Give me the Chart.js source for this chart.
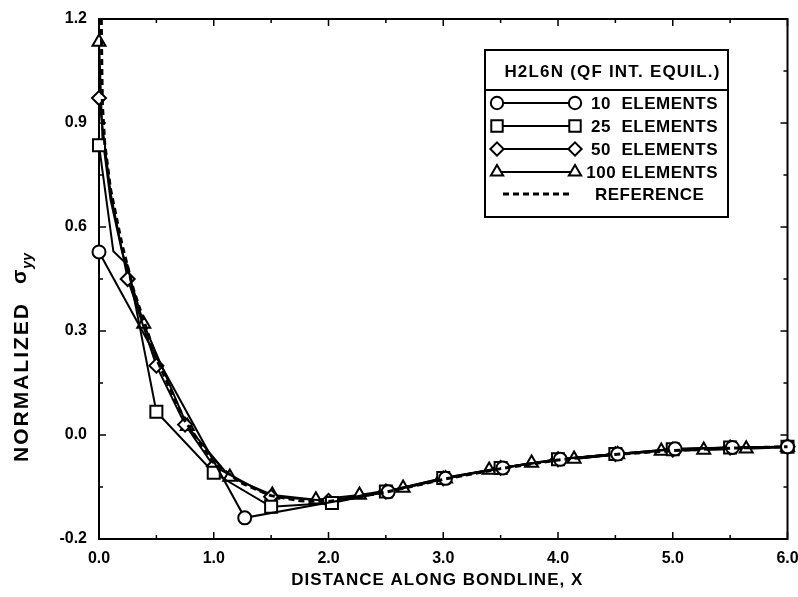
<!DOCTYPE html>
<html><head><meta charset="utf-8">
<script src="https://cdn.jsdelivr.net/npm/chart.js@4.4.1/dist/chart.umd.min.js"></script>
<style>html,body{margin:0;padding:0;background:#fff}#wrap{width:798px;height:597px}</style>
</head><body><div id="wrap"><canvas id="c" width="798" height="597"></canvas></div>
<script>
// ---------- data ----------
const xTicks = [0, 1, 2, 3, 4, 5, 6];
const xTickLabels = ['0.0', '1.0', '2.0', '3.0', '4.0', '5.0', '6.0'];
const yTicks = [-0.3, 0, 0.3, 0.6, 0.9, 1.2];
const yTickLabels = ['-0.2', '0.0', '0.3', '0.6', '0.9', '1.2'];

const x10 = [0, 1.27, 2.52, 3.02, 3.52, 4.02, 4.52, 5.02, 5.52, 6.0];
const y10 = [0.528, -0.239, -0.164, -0.125, -0.095, -0.070, -0.055, -0.040, -0.036, -0.034];

const x25 = [0, 0.125, 0.25, 0.5, 1.0, 1.5, 2.03, 2.5, 3.0, 3.5, 4.0, 4.5, 5.0, 5.5, 6.0];
const y25 = [0.836, 0.53, 0.49, 0.067, -0.109, -0.207, -0.196, -0.163, -0.124, -0.095, -0.070, -0.055, -0.041, -0.036, -0.034];

const x50 = [0, 0.1, 0.25, 0.5, 0.75, 1.0, 1.5, 2.0, 2.5, 3.0, 3.5, 4.0, 4.5, 5.0, 5.5, 6.0];
const y50 = [0.972, 0.70, 0.45, 0.20, 0.03, -0.09, -0.178, -0.19, -0.163, -0.125, -0.095, -0.070, -0.055, -0.042, -0.036, -0.034];

const x100 = [0, 0.03, 0.1, 0.2, 0.39, 0.77, 1.14, 1.51, 1.89, 2.27, 2.65, 3.02, 3.40, 3.77, 4.14, 4.52, 4.90, 5.27, 5.64, 6.0];
const y100 = [1.134, 0.86, 0.68, 0.53, 0.32, 0.025, -0.121, -0.173, -0.187, -0.173, -0.153, -0.126, -0.101, -0.081, -0.069, -0.056, -0.046, -0.043, -0.040, -0.035];

const xRef = [0.02, 0.025, 0.03, 0.05, 0.1, 0.2, 0.3, 0.4, 0.5, 0.75, 1.0, 1.25, 1.5, 1.75, 2.0, 2.5, 3.0, 3.5, 4.0, 4.5, 5.0, 5.5, 6.0];
const yRef = [1.2, 1.05, 0.95, 0.84, 0.71, 0.55, 0.42, 0.32, 0.22, 0.04, -0.08, -0.14, -0.175, -0.19, -0.192, -0.165, -0.128, -0.097, -0.072, -0.056, -0.045, -0.038, -0.034];

// mesh nodes drawn without a marker (index lists)
const noMark25 = [1, 2];
const noMark50 = [1];
const noMark100 = [1, 2, 3];

const legendTitle = 'H2L6N (QF INT. EQUIL.)';
const seriesNames = ['10  ELEMENTS', '25  ELEMENTS', '50  ELEMENTS', '100 ELEMENTS', 'REFERENCE'];
const axisTitleX = 'DISTANCE ALONG BONDLINE, X';
const axisTitleY = 'NORMALIZED';
const axisTitleYSym = 'σ';
const axisTitleYSub = 'yy';

// ---------- chart ----------
const FONT = '"Liberation Sans", Arial, sans-serif';
const pts = (xs, ys) => xs.map((x, i) => ({ x: x, y: ys[i] }));
const radiusFn = (r, hide) => (c) => hide.includes(c.dataIndex) ? 0 : r;

const markerStyles = [
  { pointStyle: 'circle', r: 6.5 },
  { pointStyle: 'rect', r: 8.5 },
  { pointStyle: 'rectRot', r: 7 },
  { pointStyle: 'triangle', r: 7.5 }
];

function series(label, xs, ys, k, hide) {
  return {
    label: label, data: pts(xs, ys), showLine: true, clip: false,
    borderColor: '#000', borderWidth: 2, tension: 0,
    pointStyle: markerStyles[k].pointStyle, pointRadius: radiusFn(markerStyles[k].r, hide),
    pointBackgroundColor: '#fff', pointBorderColor: '#000', pointBorderWidth: 2
  };
}

function drawMarker(ctx, style, r, x, y) {
  ctx.save();
  ctx.lineWidth = 2; ctx.strokeStyle = '#000'; ctx.fillStyle = '#fff';
  ctx.beginPath();
  if (style === 'circle') { ctx.arc(x, y, r, 0, Math.PI * 2); }
  else if (style === 'rect') { const s = r * Math.SQRT1_2; ctx.rect(x - s, y - s, 2 * s, 2 * s); }
  else if (style === 'rectRot') { ctx.moveTo(x, y - r); ctx.lineTo(x + r, y); ctx.lineTo(x, y + r); ctx.lineTo(x - r, y); ctx.closePath(); }
  else if (style === 'triangle') {
    let a = 0;
    ctx.moveTo(x + Math.sin(a) * r, y - Math.cos(a) * r);
    a += 2 * Math.PI / 3; ctx.lineTo(x + Math.sin(a) * r, y - Math.cos(a) * r);
    a += 2 * Math.PI / 3; ctx.lineTo(x + Math.sin(a) * r, y - Math.cos(a) * r);
    ctx.closePath();
  }
  ctx.fill(); ctx.stroke();
  ctx.restore();
}

const framePlugin = {
  id: 'frame',
  beforeDatasetsDraw(chart) {
    const { ctx, chartArea: a, scales } = chart;
    ctx.save();
    ctx.strokeStyle = '#000'; ctx.lineWidth = 2;
    ctx.strokeRect(a.left, a.top, a.right - a.left, a.bottom - a.top);
    ctx.lineWidth = 1.5;
    ctx.beginPath();
    for (let i = 0; i < xTicks.length; i++) {
      const px = scales.x.getPixelForValue(xTicks[i]);
      ctx.moveTo(px, a.bottom); ctx.lineTo(px, a.bottom - 7);
      ctx.moveTo(px, a.top); ctx.lineTo(px, a.top + 7);
      if (i < xTicks.length - 1) {
        const pm = scales.x.getPixelForValue((xTicks[i] + xTicks[i + 1]) / 2);
        ctx.moveTo(pm, a.bottom); ctx.lineTo(pm, a.bottom - 4);
        ctx.moveTo(pm, a.top); ctx.lineTo(pm, a.top + 4);
      }
    }
    for (let i = 0; i < yTicks.length; i++) {
      const py = scales.y.getPixelForValue(yTicks[i]);
      ctx.moveTo(a.left, py); ctx.lineTo(a.left + 7, py);
      ctx.moveTo(a.right, py); ctx.lineTo(a.right - 7, py);
      if (i < yTicks.length - 1) {
        const pm = scales.y.getPixelForValue((yTicks[i] + yTicks[i + 1]) / 2);
        ctx.moveTo(a.left, pm); ctx.lineTo(a.left + 4, pm);
        ctx.moveTo(a.right, pm); ctx.lineTo(a.right - 4, pm);
      }
    }
    ctx.stroke();
    ctx.restore();
  },
  afterDraw(chart) {
    const { ctx, chartArea: a } = chart;
    ctx.save();
    ctx.fillStyle = '#000';
    // x title
    ctx.font = 'bold 17px ' + FONT;
    ctx.letterSpacing = '1px';
    ctx.textAlign = 'center'; ctx.textBaseline = 'middle';
    ctx.fillText(axisTitleX, (a.left + a.right) / 2 - 6, 580);
    // y title (rotated) with subscript
    ctx.save();
    ctx.translate(22, 462);
    ctx.rotate(-Math.PI / 2);
    ctx.textAlign = 'left'; ctx.textBaseline = 'middle';
    ctx.font = 'bold 21px ' + FONT;
    ctx.letterSpacing = '2px';
    ctx.fillText(axisTitleY, 0, 0);
    let w = ctx.measureText(axisTitleY).width + 18;
    ctx.font = 'bold 21px ' + FONT;
    ctx.letterSpacing = '0px';
    ctx.fillText(axisTitleYSym, w, -2);
    w += ctx.measureText(axisTitleYSym).width + 1;
    ctx.font = 'bold italic 14px ' + FONT;
    ctx.fillText(axisTitleYSub, w, 6);
    ctx.restore();
    // legend box
    const L = 485, R = 728, T = 50, B = 217;
    ctx.lineWidth = 2; ctx.strokeStyle = '#000';
    ctx.fillStyle = '#fff';
    ctx.fillRect(L, T, R - L, B - T);
    ctx.strokeRect(L, T, R - L, B - T);
    ctx.beginPath(); ctx.moveTo(L, 90); ctx.lineTo(R, 90); ctx.stroke();
    ctx.fillStyle = '#000';
    ctx.font = 'bold 17px ' + FONT;
    ctx.letterSpacing = '1.2px';
    ctx.textAlign = 'center';
    ctx.fillText(legendTitle, (L + R) / 2 + 6, 72);
    ctx.letterSpacing = '0.5px';
    const rows = [103, 126, 149, 172, 194];
    for (let k = 0; k < 4; k++) {
      const y = rows[k];
      ctx.beginPath(); ctx.lineWidth = 2; ctx.moveTo(497, y); ctx.lineTo(575, y); ctx.stroke();
      drawMarker(ctx, markerStyles[k].pointStyle, markerStyles[k].r * 0.95, 497, y);
      drawMarker(ctx, markerStyles[k].pointStyle, markerStyles[k].r * 0.95, 575, y);
      ctx.fillStyle = '#000';
      ctx.font = 'bold 17px ' + FONT;
      ctx.textAlign = 'right';
      ctx.fillText(seriesNames[k], 718, y + 1);
    }
    ctx.beginPath(); ctx.lineWidth = 3; ctx.setLineDash([6, 4]);
    ctx.moveTo(503, rows[4]); ctx.lineTo(572, rows[4]); ctx.stroke();
    ctx.setLineDash([]);
    ctx.textAlign = 'left';
    ctx.fillText(seriesNames[4], 595, rows[4] + 1);
    ctx.restore();
  }
};

new Chart(document.getElementById('c').getContext('2d'), {
  type: 'scatter',
  data: {
    datasets: [
      { label: seriesNames[4], data: pts(xRef, yRef), showLine: true, clip: false, borderColor: '#000', borderWidth: 3, borderDash: [6, 4], pointRadius: 0, tension: 0 },
      series(seriesNames[0], x10, y10, 0, []),
      series(seriesNames[1], x25, y25, 1, noMark25),
      series(seriesNames[2], x50, y50, 2, noMark50),
      series(seriesNames[3], x100, y100, 3, noMark100)
    ]
  },
  options: {
    responsive: false, animation: false, devicePixelRatio: 1,
    layout: { padding: { left: 0, top: 19, right: 9, bottom: 0 } },
    plugins: { legend: { display: false }, tooltip: { enabled: false } },
    scales: {
      x: {
        type: 'linear', min: 0, max: 6,
        afterBuildTicks: (s) => { s.ticks = xTicks.map(v => ({ value: v })); },
        afterFit: (s) => { s.height = 58; s.paddingLeft = 0; s.paddingRight = 0; },
        ticks: { callback: (v, i) => xTickLabels[i], color: '#000', font: { family: FONT, size: 16, weight: 'bold' }, padding: 2, maxRotation: 0, autoSkip: false },
        grid: { display: false }, border: { display: false }
      },
      y: {
        type: 'linear', min: -0.3, max: 1.2,
        afterBuildTicks: (s) => { s.ticks = yTicks.map(v => ({ value: v })); },
        afterFit: (s) => { s.width = 99; s.paddingTop = 0; s.paddingBottom = 0; },
        ticks: { callback: (v, i) => yTickLabels[i], color: '#000', font: { family: FONT, size: 16, weight: 'bold' }, padding: 4, autoSkip: false },
        grid: { display: false }, border: { display: false }
      }
    }
  },
  plugins: [framePlugin]
});
</script>
</body></html>
